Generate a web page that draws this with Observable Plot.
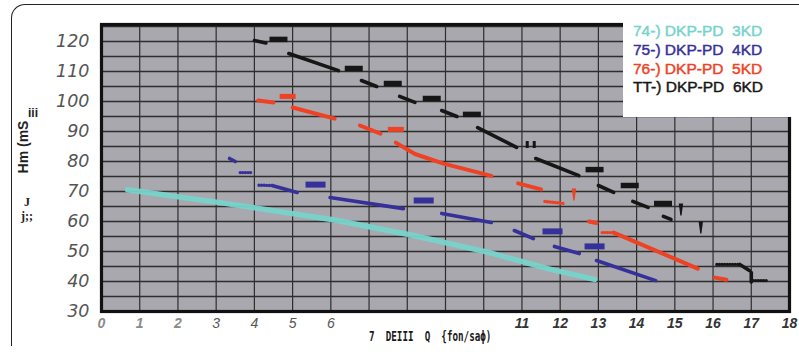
<!DOCTYPE html>
<html>
<head>
<meta charset="utf-8">
<script src="https://cdn.jsdelivr.net/npm/d3@7"></script>
<script src="https://cdn.jsdelivr.net/npm/@observablehq/plot@0.6"></script>
<style>
  html, body { margin: 0; padding: 0; background: #fff; }
  #wrap { position: relative; width: 799px; height: 358px; overflow: hidden; background: #fff; }
  #wrap svg { position: absolute; left: 0; top: 0; }
  .ov { position: absolute; white-space: pre; }
</style>
</head>
<body>
<div id="wrap"></div>
<script>
// ---------- data ----------
const xTicksLight = [0, 1, 2];
const xTicksMid = [3, 4, 5, 6];
const xTicksBold = [11, 12, 13, 14, 15, 16, 17, 18];
const yTicks = [30, 40, 50, 60, 70, 80, 90, 100, 110, 120];
const hGrid = [35, 40, 45, 50, 55, 60, 65, 70, 75, 80, 85, 90, 95, 100, 105, 110, 115, 120, 125];
const vGrid = [1, 2, 3, 4, 5, 6, 7, 8, 9, 10, 11, 12, 13, 14, 15, 16, 17];

const seriesNames = ["74-) DKP-PD  3KD", "75-) DKP-PD  4KD", "76-) DKP-PD  5KD", "TT-) DKP-PD  6KD"];
const seriesColors = ["#76d3ca", "#36309a", "#ef4124", "#161616"];

// 74-) 3KD (cyan)
const cyanSegs = [
  [[0.68, 70.6], [3.1, 66.3], [6.1, 60.5], [8.1, 55.5], [10.1, 49.8], [11.7, 44.2], [12.9, 40.7]]
];
// 75-) 4KD (blue)
const blueSegs = [
  [[3.35, 81], [3.5, 80]],
  [[4.46, 72], [5.12, 69.7]],
  [[5.98, 68], [7.9, 64.3]],
  [[8.9, 62.7], [10.2, 59.7]],
  [[10.8, 57], [11.3, 54.3]],
  [[11.85, 51.7], [12.5, 49.3]],
  [[12.95, 47], [14.5, 40.3]]
];
const blueDots = [
  [[3.63, 76.3], [3.94, 76.3]],
  [[4.12, 72.1], [4.46, 72]]
];
const blueMarks = [[5.6, 72.3], [8.43, 67], [11.8, 56.7], [12.9, 51.7]];

// 76-) 5KD (red)
const redSegs = [
  [[4.1, 100.3], [4.5, 99.7]],
  [[5.0, 98], [6.1, 94.3]],
  [[6.76, 92], [7.3, 89.3]],
  [[7.7, 86.3], [8.2, 82.5], [8.95, 79.3], [10.2, 75.2]],
  [[10.9, 72.7], [11.5, 70.7]],
  [[12.75, 60], [12.95, 59.5]],
  [[13.4, 56.3], [15.6, 44.3]],
  [[16.05, 41.3], [16.35, 40.6]]
];
const redDots = [
  [[11.6, 66.7], [12.1, 66]],
  [[13.1, 56.3], [13.4, 56.3]]
];
const redMarks = [[4.87, 101.7], [7.7, 90.7]];
const redExcl = [[12.36, 68.7]];

// TT-) 6KD (black)
const blackSegs = [
  [[4.0, 120.3], [4.3, 119.5]],
  [[4.9, 116], [6.2, 110.3]],
  [[6.8, 107], [7.2, 105]],
  [[7.8, 101.7], [8.2, 99.7]],
  [[8.9, 97], [9.3, 95]],
  [[9.84, 91.3], [10.86, 84.7]],
  [[11.36, 81], [12.49, 75.3]],
  [[13.0, 72], [13.4, 69.7]],
  [[13.9, 66.7], [14.3, 64.7]],
  [[14.7, 61.7], [14.9, 60.7]],
  [[16.7, 45.7], [16.95, 43.7]],
  [[17.0, 43], [17.0, 39.8]]
];
const blackDots = [
  [[16.1, 45.7], [16.7, 45.7]],
  [[17.05, 40.3], [17.45, 40.3]]
];
const blackMarks = [[4.63, 120.7], [6.6, 111], [7.62, 106], [8.64, 101], [9.69, 95.7], [12.9, 77.3], [13.82, 72], [14.69, 66]];
const blackExcl = [[15.16, 63.7], [15.68, 57.7]];
const blackDouble = [[11.23, 85.7]];

// ---------- helpers ----------
const rows = (segs, name) => segs.flatMap((seg, i) => seg.map(([x, y]) => ({x, y, seg: name + i})));
const pts = (arr) => arr.map(([x, y]) => ({x, y}));
const rectSym = (w, h) => ({draw(ctx) { ctx.rect(-w / 2, -h / 2, w, h); }});
const wedgeSym = {draw(ctx) { ctx.moveTo(-2.2, -7); ctx.lineTo(2.2, -7); ctx.lineTo(0.6, 5); ctx.lineTo(-0.6, 5); ctx.closePath(); }};
const doubleSym = {draw(ctx) { ctx.rect(-5, -3.5, 3, 7); ctx.rect(2, -3.5, 3, 7); }};

const lineOpts = (color, w) => ({x: "x", y: "y", z: "seg", stroke: color, strokeWidth: w, strokeLinecap: "round"});
const dotLineOpts = (color) => ({x: "x", y: "y", z: "seg", stroke: color, strokeWidth: 3.4, strokeDasharray: "0,2.6", strokeLinecap: "round"});

const chart = Plot.plot({
  width: 799,
  height: 358,
  marginLeft: 101,
  marginRight: 10,
  marginTop: 24,
  marginBottom: 47,
  x: {domain: [0, 18], axis: null},
  y: {domain: [30, 125.67], axis: null},
  style: {background: "transparent", overflow: "visible"},
  marks: [
    Plot.frame({fill: "#a9a8ae"}),
    Plot.ruleY(hGrid, {stroke: "#2e2e2e", strokeWidth: 1.3}),
    Plot.ruleX(vGrid, {stroke: "#2e2e2e", strokeWidth: 1.2}),
    Plot.line(rows(cyanSegs, "c"), {...lineOpts(seriesColors[0], 5.5), strokeOpacity: 0.95}),
    Plot.line(rows(blueSegs, "b"), lineOpts(seriesColors[1], 3.6)),
    Plot.line(rows(blueDots, "bd"), dotLineOpts(seriesColors[1])),
    Plot.line(rows(redSegs, "r"), lineOpts(seriesColors[2], 4)),
    Plot.line(rows(redDots, "rd"), dotLineOpts(seriesColors[2])),
    Plot.line(rows(blackSegs, "k"), lineOpts(seriesColors[3], 3.6)),
    Plot.line(rows(blackDots, "kd"), dotLineOpts(seriesColors[3])),
    Plot.dot(pts(blueMarks), {x: "x", y: "y", symbol: rectSym(20, 6), fill: seriesColors[1], stroke: null}),
    Plot.dot(pts(redMarks), {x: "x", y: "y", symbol: rectSym(16, 5), fill: seriesColors[2], stroke: null}),
    Plot.dot(pts(blackMarks), {x: "x", y: "y", symbol: rectSym(18, 5.5), fill: seriesColors[3], stroke: null}),
    Plot.dot(pts(redExcl), {x: "x", y: "y", symbol: wedgeSym, fill: seriesColors[2], stroke: null}),
    Plot.dot(pts(blackExcl), {x: "x", y: "y", symbol: wedgeSym, fill: seriesColors[3], stroke: null}),
    Plot.dot(pts(blackDouble), {x: "x", y: "y", symbol: doubleSym, fill: seriesColors[3], stroke: null}),
    Plot.frame({stroke: "#111", strokeWidth: 3.2}),
    Plot.text(yTicks, {y: d => d, frameAnchor: "left", dx: -12, textAnchor: "end", text: d => String(d),
      fontSize: 17.5, fontStyle: "italic", fontWeight: 200, fill: "#555", fontFamily: "DejaVu Sans"}),
    Plot.text(xTicksLight, {x: d => d, frameAnchor: "bottom", dy: 16, text: d => String(d),
      fontSize: 14, fontStyle: "italic", fontWeight: "bold", fill: "#8a8a8a", fontFamily: "Liberation Sans"}),
    Plot.text(xTicksMid, {x: d => d, frameAnchor: "bottom", dy: 16, text: d => String(d),
      fontSize: 14, fontStyle: "italic", fill: "#555", fontFamily: "Liberation Sans"}),
    Plot.text(xTicksBold, {x: d => d, frameAnchor: "bottom", dy: 16, text: d => String(d),
      fontSize: 14, fontStyle: "italic", fontWeight: "bold", fill: "#333", fontFamily: "Liberation Sans"})
  ]
});

const wrap = document.getElementById("wrap");
wrap.appendChild(chart);

function ov(html, css) {
  const d = document.createElement("div");
  d.className = "ov";
  d.textContent = html;
  Object.assign(d.style, css);
  wrap.appendChild(d);
  return d;
}

// decorative outer frame
ov("", {left: "11px", top: "4px", width: "800px", height: "341px", borderLeft: "1.5px solid #222", borderTop: "1.5px solid #222", borderTopLeftRadius: "14px"});

// legend box
ov("", {left: "623px", top: "6px", width: "176px", height: "111px", background: "#fff"});
seriesNames.forEach((name, i) => {
  ov(name, {left: "633px", top: (22 + i * 18.8) + "px", fontFamily: "Liberation Sans, Arial, sans-serif",
    fontSize: "15.5px", lineHeight: "18px", color: seriesColors[i], fontWeight: "normal",
    webkitTextStroke: "0.45px " + seriesColors[i]});
});

// x axis label
ov("7  DEIII  Q  {fon/saϕ)", {left: "369px", top: "328px", fontFamily: "DejaVu Sans Mono, monospace", fontWeight: "bold",
  fontSize: "14px", color: "#1a1a1a", transform: "scaleX(0.66)", transformOrigin: "left center"});

// y axis label (rotated)
ov("Hm (mS", {left: "23px", top: "147px", fontFamily: "Liberation Sans, Arial, sans-serif", fontWeight: "bold",
  fontSize: "14px", color: "#222", transform: "translate(-50%, -50%) rotate(-90deg)"});
ov("iii", {left: "28px", top: "106px", fontFamily: "Liberation Sans, Arial, sans-serif", fontWeight: "bold",
  fontSize: "12px", color: "#222"});
ov("J", {left: "24px", top: "195px", fontFamily: "Liberation Serif, serif", fontWeight: "bold", fontSize: "12px", color: "#222"});
ov("j;;", {left: "21px", top: "209px", fontFamily: "Liberation Serif, serif", fontWeight: "bold", fontSize: "12px", color: "#222"});
</script>
</body>
</html>
